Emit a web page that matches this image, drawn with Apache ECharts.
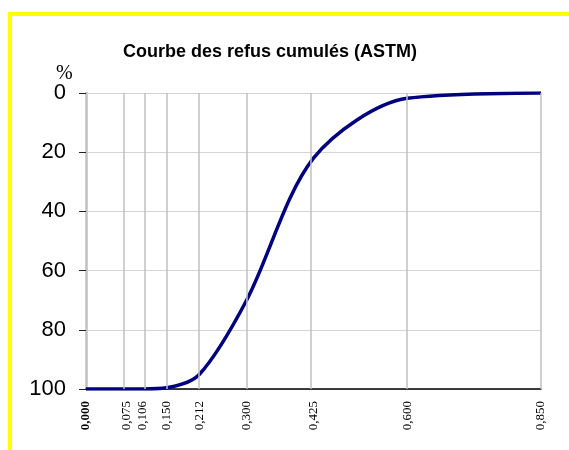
<!DOCTYPE html>
<html>
<head>
<meta charset="utf-8">
<script src="https://cdn.jsdelivr.net/npm/echarts@6/dist/echarts.min.js"></script>
<style>
  html, body { margin: 0; padding: 0; background: #fff; }
  #myChart { width: 569px; height: 450px; }
</style>
</head>
<body>
<div id="myChart"></div>
<script>
// tamis ASTM (mm) et refus cumulés (%)
var sieves = [0.000, 0.075, 0.106, 0.150, 0.212, 0.300, 0.425, 0.600, 0.850]
var refus = [100, 100, 100, 99.6, 95, 70, 22, 1.8, 0]
var yTicks = [0, 20, 40, 60, 80, 100]

var chart = echarts.init(document.getElementById('myChart'))

var option = {
  animation: false,
  backgroundColor: '#ffffff',
  title: [
    {
      text: 'Courbe des refus cumulés (ASTM)',
      left: 118,
      top: 38,
      textStyle: { fontFamily: 'Arial, Liberation Sans', fontSize: 18, fontWeight: 'bold', color: '#000' }
    },
    {
      text: '%',
      left: 51,
      top: 59,
      textStyle: { fontFamily: 'Times New Roman, Liberation Serif', fontSize: 20, fontWeight: 'normal', color: '#000' }
    }
  ],
  graphic: [
    {
      type: 'polyline',
      shape: { points: [[10, 450], [10, 14], [569, 14]] },
      style: { stroke: '#ffff00', lineWidth: 4, fill: null },
      silent: true
    }
  ],
  grid: { left: 86, right: 28, top: 93, bottom: 61 },
  xAxis: {
    type: 'value',
    position: 'bottom',
    min: 0,
    max: 0.85,
    axisLine: { show: true, onZero: false, lineStyle: { color: '#000', width: 1.5 } },
    axisTick: { show: false },
    splitLine: { show: false },
    axisLabel: {
      customValues: sieves,
      rotate: 90,
      margin: 12,
      fontFamily: 'Times New Roman, Liberation Serif',
      fontSize: 13,
      color: '#000',
      formatter: function (v) {
        var s = v.toFixed(3).replace('.', ',')
        return v === 0 ? '{b|' + s + '}' : s
      },
      rich: {
        b: { fontWeight: 'bold', fontFamily: 'Times New Roman, Liberation Serif', fontSize: 13, color: '#000' }
      }
    }
  },
  yAxis: {
    type: 'value',
    inverse: true,
    min: 0,
    max: 100,
    interval: 20,
    axisLine: { show: true, onZero: false, lineStyle: { color: '#c0c0c0', width: 2.5 } },
    axisTick: { show: true, length: 7, lineStyle: { color: '#222' } },
    splitLine: { show: true, showMinLine: true, lineStyle: { color: '#d4d4d4', width: 1 } },
    axisLabel: {
      margin: 20,
      fontFamily: 'Arial, Liberation Sans',
      fontSize: 22,
      color: '#000',
      formatter: function (v) { return yTicks.indexOf(v) >= 0 ? String(v) : '' }
    }
  },
  series: [
    {
      type: 'line',
      data: sieves.map(function (x, i) { return [x, refus[i]] }),
      smooth: 0.3,
      showSymbol: false,
      lineStyle: { color: '#000080', width: 3.5 },
      markLine: {
        silent: true,
        symbol: 'none',
        label: { show: false },
        lineStyle: { color: '#c0c0c0', type: 'solid', width: 1.5 },
        data: sieves.slice(1).map(function (x) { return { xAxis: x } })
      },
      z: 3
    }
  ]
}

chart.setOption(option)
</script>
</body>
</html>
